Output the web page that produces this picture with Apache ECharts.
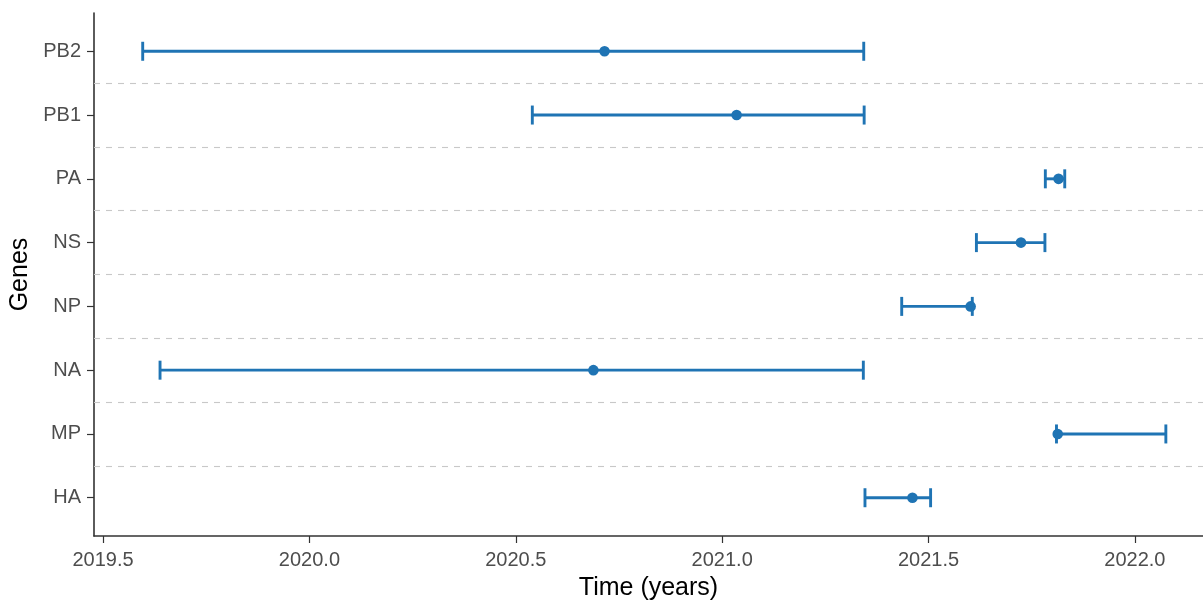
<!DOCTYPE html>
<html>
<head>
<meta charset="utf-8">
<script src="https://cdn.jsdelivr.net/npm/echarts@6/dist/echarts.min.js"></script>
<style>html,body{margin:0;padding:0;background:#fff}#c{width:1203px;height:603px}</style>
</head>
<body>
<div id="c"></div>
<script>
const genes = ['HA', 'MP', 'NA', 'NP', 'NS', 'PA', 'PB1', 'PB2'];
const lower = [2021.346, 2021.810, 2019.638, 2021.435, 2021.616, 2021.783, 2020.540, 2019.596];
const point = [2021.461, 2021.813, 2020.688, 2021.602, 2021.724, 2021.815, 2021.035, 2020.715];
const upper = [2021.505, 2022.075, 2021.342, 2021.606, 2021.782, 2021.830, 2021.344, 2021.343];
const xTicks = [2019.5, 2020.0, 2020.5, 2021.0, 2021.5, 2022.0];
const separators = [0.5, 1.5, 2.5, 3.5, 4.5, 5.5, 6.5];

const color = '#1f74b4';
const data = genes.map((g, i) => [i, lower[i], point[i], upper[i]]);

const chart = echarts.init(document.getElementById('c'));
chart.setOption({
  animation: false,
  grid: {left: 94, right: 0, top: 13, bottom: 67, outerBoundsMode: 'none', containLabel: false},
  xAxis: {
    type: 'value', min: 2019.478, max: 2022.165,
    name: 'Time (years)', nameLocation: 'middle', nameGap: 40,
    nameTextStyle: {fontSize: 25, color: '#000', fontFamily: 'Liberation Sans'},
    axisLine: {show: true, onZero: false, lineStyle: {color: '#333', width: 1.6}},
    axisTick: {show: true, length: 7, customValues: xTicks, lineStyle: {color: '#333', width: 1.2}},
    axisLabel: {customValues: xTicks, margin: 14, fontSize: 20, color: '#4d4d4d', fontFamily: 'Liberation Sans',
      formatter: v => v.toFixed(1)},
    splitLine: {show: false}
  },
  yAxis: {
    type: 'value', min: -0.6, max: 7.6,
    name: 'Genes', nameLocation: 'middle', nameGap: 61, nameRotate: 90,
    nameTextStyle: {fontSize: 25, color: '#000', fontFamily: 'Liberation Sans'},
    axisLine: {show: true, onZero: false, lineStyle: {color: '#333', width: 1.6}},
    axisTick: {show: true, length: 7, customValues: [0,1,2,3,4,5,6,7], lineStyle: {color: '#333', width: 1.2}},
    axisLabel: {customValues: [0,1,2,3,4,5,6,7], margin: 13, fontSize: 20, color: '#4d4d4d', fontFamily: 'Liberation Sans',
      formatter: v => genes[Math.round(v)]},
    splitLine: {show: false}
  },
  series: [
    {
      type: 'custom',
      data: data,
      encode: {x: [1, 2, 3], y: 0},
      renderItem: function (params, api) {
        const y = api.value(0);
        const lo = api.coord([api.value(1), y]);
        const pt = api.coord([api.value(2), y]);
        const hi = api.coord([api.value(3), y]);
        const h = 9.5;
        const style = {stroke: color, lineWidth: 2.9, fill: null};
        return {
          type: 'group',
          children: [
            {type: 'line', shape: {x1: lo[0], y1: lo[1], x2: hi[0], y2: hi[1]}, style: style},
            {type: 'line', shape: {x1: lo[0], y1: lo[1] - h, x2: lo[0], y2: lo[1] + h}, style: style},
            {type: 'line', shape: {x1: hi[0], y1: hi[1] - h, x2: hi[0], y2: hi[1] + h}, style: style},
            {type: 'circle', shape: {cx: pt[0], cy: pt[1], r: 5.3}, style: {fill: color}}
          ]
        };
      },
      markLine: {
        silent: true, symbol: 'none', label: {show: false},
        lineStyle: {type: [6, 6], color: '#c8c8c8', width: 1.1},
        data: separators.map(v => ({yAxis: v}))
      },
      z: 3
    }
  ]
});
</script>
</body>
</html>
